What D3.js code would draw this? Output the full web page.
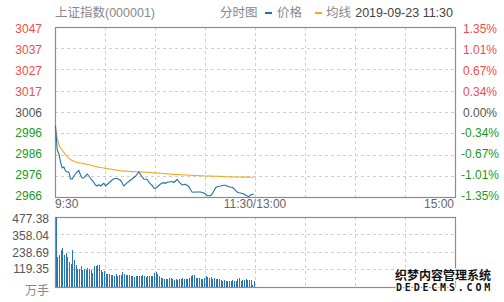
<!DOCTYPE html>
<html>
<head>
<meta charset="utf-8">
<script src="https://cdn.jsdelivr.net/npm/d3@7"></script>
<style>
  html, body { margin: 0; padding: 0; background: #fff; }
  text { font-family: "Liberation Sans", Arial, "Noto Sans CJK SC", sans-serif; }
</style>
</head>
<body>
<div id="chart"></div>
<script>
// ---- data ----
const title = "上证指数(000001)";
const dateText = "2019-09-23 11:30";
const preClose = 3006.45;
const priceTicks = [3047.04, 3036.89, 3026.75, 3016.60, 3006.45, 2996.30, 2986.15, 2976.00, 2965.86];
const pctLabels = ["1.35%", "1.01%", "0.67%", "0.34%", "0.00%", "-0.34%", "-0.67%", "-1.01%", "-1.35%"];
const volTicks = [477.38, 358.04, 238.69, 119.35];
const timeTicks = [
  {t: 0, label: "9:30", anchor: "start"},
  {t: 120, label: "11:30/13:00", anchor: "middle"},
  {t: 240, label: "15:00", anchor: "end"}
];

// one value per minute from 9:30 to 11:29
const price = [
  2999.77, 2988.31, 2986.40, 2982.58, 2979.72, 2980.19, 2978.28, 2977.81, 2977.81, 2974.47,
  2974.47, 2975.90, 2976.85, 2977.81, 2978.52, 2976.38, 2974.94, 2974.94, 2975.90, 2976.85,
  2975.90, 2974.70, 2973.75, 2972.79, 2971.60, 2971.12, 2971.74, 2971.12, 2971.84, 2972.41,
  2971.12, 2971.84, 2972.55, 2973.27, 2973.99, 2974.61, 2974.70, 2974.70, 2974.23, 2973.85,
  2972.55, 2971.12, 2971.84, 2972.70, 2973.27, 2973.99, 2974.47, 2975.18, 2975.75, 2976.85,
  2977.81, 2976.61, 2975.42, 2974.47, 2974.32, 2974.32, 2973.03, 2972.08, 2971.36, 2970.17,
  2969.93, 2970.65, 2971.36, 2972.08, 2972.55, 2972.70, 2972.41, 2972.89, 2973.03, 2973.18,
  2973.27, 2972.79, 2973.51, 2974.32, 2973.18, 2972.32, 2971.60, 2971.84, 2971.94, 2971.36,
  2970.79, 2969.45, 2968.26, 2968.11, 2968.26, 2968.26, 2968.26, 2968.26, 2968.02, 2967.78,
  2967.30, 2966.49, 2966.49, 2966.49, 2967.30, 2968.73, 2970.17, 2970.79, 2970.98, 2971.12,
  2971.36, 2971.46, 2971.46, 2971.12, 2970.79, 2970.50, 2970.50, 2969.93, 2968.98, 2968.26,
  2967.92, 2967.78, 2967.54, 2967.30, 2966.82, 2966.35, 2966.01, 2966.82, 2967.16, 2967.16
];
const avgPrice = [
  2998.70, 2994.00, 2990.80, 2989.30, 2988.20, 2987.20, 2986.10, 2985.00, 2984.40, 2983.80,
  2983.30, 2983.00, 2982.60, 2982.40, 2982.20, 2982.10, 2981.95, 2981.80, 2981.60, 2981.45,
  2981.30, 2981.10, 2980.90, 2980.60, 2980.40, 2980.25, 2980.10, 2979.95, 2979.80, 2979.70,
  2979.55, 2979.45, 2979.30, 2979.20, 2979.05, 2978.95, 2978.80, 2978.70, 2978.55, 2978.40,
  2978.25, 2978.20, 2978.20, 2978.15, 2978.10, 2978.05, 2978.00, 2978.00, 2977.95, 2977.95,
  2977.90, 2977.85, 2977.80, 2977.75, 2977.70, 2977.65, 2977.60, 2977.55, 2977.50, 2977.47,
  2977.40, 2977.30, 2977.25, 2977.20, 2977.10, 2977.05, 2977.00, 2976.90, 2976.85, 2976.80,
  2976.70, 2976.68, 2976.65, 2976.60, 2976.55, 2976.50, 2976.45, 2976.40, 2976.38, 2976.35,
  2976.30, 2976.28, 2976.25, 2976.20, 2976.15, 2976.10, 2976.05, 2976.00, 2976.00, 2975.95,
  2975.92, 2975.90, 2975.88, 2975.85, 2975.82, 2975.80, 2975.78, 2975.75, 2975.72, 2975.70,
  2975.65, 2975.60, 2975.55, 2975.52, 2975.50, 2975.48, 2975.45, 2975.42, 2975.40, 2975.40,
  2975.38, 2975.38, 2975.36, 2975.36, 2975.35, 2975.34, 2975.33, 2975.32, 2975.31, 2975.30
];
// 万手
const volume = [
  477.38, 208, 215, 253, 267, 221, 231, 208, 170, 158,
  249, 185, 153, 124, 124, 140, 117, 124, 117, 131,
  120, 113, 95, 140, 145, 153, 147, 117, 102, 109,
  90, 90, 88, 84, 84, 77, 86, 75, 79, 81,
  102, 90, 84, 79, 80, 77, 72, 68, 72, 77,
  76, 72, 84, 72, 68, 77, 72, 73, 72, 95,
  99, 88, 77, 61, 61, 54, 56, 54, 61, 61,
  54, 50, 52, 50, 54, 54, 61, 54, 56, 54,
  61, 77, 84, 84, 63, 61, 61, 54, 54, 61,
  77, 70, 61, 67, 54, 61, 54, 56, 54, 50,
  43, 45, 43, 43, 43, 43, 45, 43, 43, 54,
  61, 43, 50, 48, 54, 50, 50, 50, 14, 38
];

// ---- layout ----
const W = 504, H = 302;
const left = 55, right = 455;
const pTop = 27, pBottom = 197;
const vTop = 217, vBottom = 287;

const red = "#f44a4a", green = "#1a9a1a", grey = "#555";
const blue = "#1f6fae", orange = "#f5a623";
const gridColor = "#cfcfcf", frameColor = "#8c8c8c";

const svg = d3.select("#chart").append("svg")
  .attr("width", W).attr("height", H);

const x = d3.scaleLinear().domain([0, 240]).range([left, right]);
const y = d3.scaleLinear().domain([priceTicks[8], priceTicks[0]]).range([pBottom, pTop]);
const yLabel = d3.scaleLinear().domain([priceTicks[8], priceTicks[0]]).range([200, 33]);
const yv = d3.scaleLinear().domain([0, volTicks[0]]).range([vBottom, vTop]);
const yvLabel = d3.scaleLinear().domain([volTicks[3], volTicks[0]]).range([273.3, 223.3]);

// header
const head = svg.append("g").style("font-size", "12.5px");
head.append("text").attr("x", 55).attr("y", 17).attr("fill", "#888").text(title);
head.append("text").attr("x", 220).attr("y", 17).attr("fill", "#888").text("分时图");
head.append("rect").attr("x", 265).attr("y", 12).attr("width", 7).attr("height", 2).attr("fill", blue);
head.append("text").attr("x", 277).attr("y", 17).attr("fill", "#888").text("价格");
head.append("rect").attr("x", 315).attr("y", 12).attr("width", 7).attr("height", 2).attr("fill", orange);
head.append("text").attr("x", 326).attr("y", 17).attr("fill", "#888").text("均线");
head.append("text").attr("x", 453).attr("y", 17).attr("text-anchor", "end").attr("fill", "#444").text(dateText);

// grids
function grid(g, yTicks, ys, top, bottom) {
  g.selectAll("line.h").data(yTicks.slice(1, -1)).enter().append("line")
    .attr("x1", left).attr("x2", right)
    .attr("y1", d => Math.round(ys(d)) + 0.5).attr("y2", d => Math.round(ys(d)) + 0.5)
    .attr("stroke", gridColor).attr("stroke-dasharray", "3,3");
  g.selectAll("line.v").data(d3.range(30, 240, 30)).enter().append("line")
    .attr("x1", d => Math.round(x(d)) + 0.5).attr("x2", d => Math.round(x(d)) + 0.5)
    .attr("y1", top).attr("y2", bottom)
    .attr("stroke", gridColor).attr("stroke-dasharray", "3,3");
  g.append("rect").attr("x", left + 0.5).attr("y", top + 0.5)
    .attr("width", right - left).attr("height", bottom - top)
    .attr("fill", "none").attr("stroke", frameColor).attr("stroke-width", 1.2);
}
grid(svg.append("g"), priceTicks, y, pTop, pBottom);
grid(svg.append("g"), volTicks.concat([0]), yv, vTop, vBottom);

// price axis labels
const colorOf = i => i < 4 ? red : (i === 4 ? grey : green);
svg.append("g").style("font-size", "12px")
  .selectAll("text").data(priceTicks).enter().append("text")
  .attr("x", 42).attr("y", d => yLabel(d)).attr("text-anchor", "end")
  .attr("fill", (d, i) => colorOf(i))
  .text(d => d3.format(".0f")(d));
svg.append("g").style("font-size", "12px")
  .selectAll("text").data(priceTicks).enter().append("text")
  .attr("x", 480).attr("y", d => yLabel(d)).attr("text-anchor", "middle")
  .attr("fill", (d, i) => colorOf(i))
  .text((d, i) => pctLabels[i]);

// time labels
svg.append("g").style("font-size", "12px")
  .selectAll("text").data(timeTicks).enter().append("text")
  .attr("x", d => d.anchor === "end" ? x(d.t) - 1 : x(d.t))
  .attr("y", 208).attr("text-anchor", d => d.anchor)
  .attr("fill", "#666").text(d => d.label);

// volume labels
const vl = svg.append("g").style("font-size", "12px");
vl.selectAll("text").data(volTicks).enter().append("text")
  .attr("x", 49).attr("y", d => yvLabel(d)).attr("text-anchor", "end")
  .attr("fill", "#555").text(d => d.toFixed(2));
vl.append("text").attr("x", 49).attr("y", 295).attr("text-anchor", "end")
  .attr("fill", "#888").text("万手");

// lines
const line = d3.line().x((d, i) => x(i) + 0.5).y(d => y(d));
svg.append("path").datum(avgPrice).attr("d", line)
  .attr("fill", "none").attr("stroke", orange).attr("stroke-width", 1.1);
svg.append("path").datum(price).attr("d", line)
  .attr("fill", "none").attr("stroke", blue).attr("stroke-width", 1.1);

// volume bars
svg.append("g").selectAll("rect").data(volume).enter().append("rect")
  .attr("x", (d, i) => x(i) + 0.6)
  .attr("y", d => yv(d))
  .attr("width", 1.1)
  .attr("height", d => vBottom - yv(d))
  .attr("fill", "#2a76b0")
  .attr("shape-rendering", "crispEdges");

// watermark
const wm = svg.append("g").attr("fill", "#111").attr("stroke", "#fff")
  .attr("stroke-width", 2.5).style("paint-order", "stroke");
wm.append("text").attr("x", 395).attr("y", 280)
  .style("font-family", "'Noto Sans CJK SC', sans-serif").style("font-size", "12px")
  .style("font-weight", "bold").text("织梦内容管理系统");
wm.append("text").attr("x", 396).attr("y", 291)
  .style("font-family", "'DejaVu Sans Mono', monospace").style("font-size", "10px")
  .style("font-weight", "bold").style("letter-spacing", "2.8px").text("DEDECMS.COM");
</script>
</body>
</html>
